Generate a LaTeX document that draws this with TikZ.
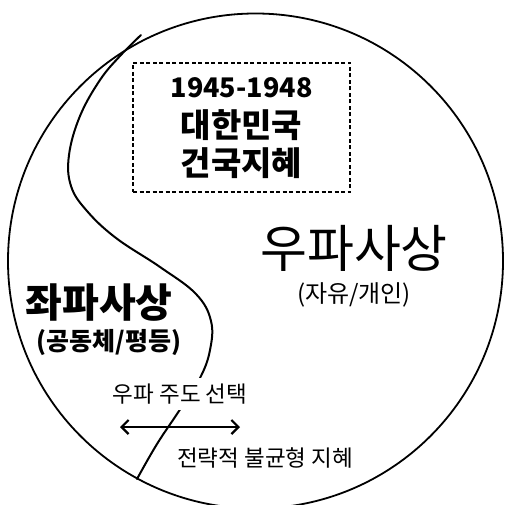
\documentclass[tikz,border=0pt]{standalone}
\usepackage{fontspec}
\newfontfamily\kr{Noto Sans CJK KR}
\usetikzlibrary{arrows.meta}
\begin{document}
\begin{tikzpicture}[x=1pt,y=-1pt,
  lbl/.style={font=\kr, inner sep=0pt, text=black, align=center},
  line/.style={line width=1.8pt, black},
]
\useasboundingbox (0,0) rectangle (504,505);
\fill[white] (0,0) rectangle (504,505);
% outer circle
\node[circle, draw, line width=1.8pt, minimum size=495pt, inner sep=0pt] (world) at (255.5,261) {};
% S-shaped divide
\draw[line, line width=2pt, line cap=round] plot[smooth, tension=0.65] coordinates {
  (141,35) (120,56) (100,80) (80,116) (69,155) (71,186) (87,211) (116,238)
  (160,267) (196,294) (211,321) (210,350) (200,378) (179,411) (157,444) (137,479)};
% dashed box
\node[draw, dash pattern=on 4pt off 2.5pt, line width=1.5pt, minimum width=217pt, minimum height=129pt, inner sep=0pt] (box) at (241.5,127.5) {};
\node[lbl, font=\kr\bfseries\fontsize{27}{30}\selectfont] (years) at (241.5,88) {1945-1948};
\node[lbl, font=\kr\bfseries\fontsize{33}{36}\selectfont] (nation) at (241.5,125) {대한민국};
\node[lbl, font=\kr\bfseries\fontsize{33}{36}\selectfont] (founding) at (241.5,163) {건국지혜};
% right side
\node[lbl, font=\kr\fontsize{51}{54}\selectfont] (right) at (354,248) {우파사상};
\node[lbl, font=\kr\fontsize{24}{26}\selectfont] (rightsub) at (354,295) {(자유/개인)};
% left side
\node[lbl, font=\kr\bfseries\fontsize{40}{44}\selectfont] (left) at (99,303) {좌파사상};
\node[lbl, font=\kr\bfseries\fontsize{25}{28}\selectfont] (leftsub) at (109,343) {(공동체/평등)};
% bottom
\node[lbl, font=\kr\fontsize{22.5}{24}\selectfont, fill=white, minimum height=32pt, inner xsep=6pt] (choice) at (180,394) {우파 주도 선택};
\coordinate (aL) at (120,427);
\coordinate (aR) at (240,427);
\draw[line width=2.2pt, {Straight Barb[length=7pt,width=14pt,line width=2.2pt]}-{Straight Barb[length=7pt,width=14pt,line width=2.2pt]}] (aL) -- (aR);
\node[lbl, font=\kr\fontsize{22.5}{24}\selectfont] (wisdom) at (265,458) {전략적 불균형 지혜};
\end{tikzpicture}
\end{document}
